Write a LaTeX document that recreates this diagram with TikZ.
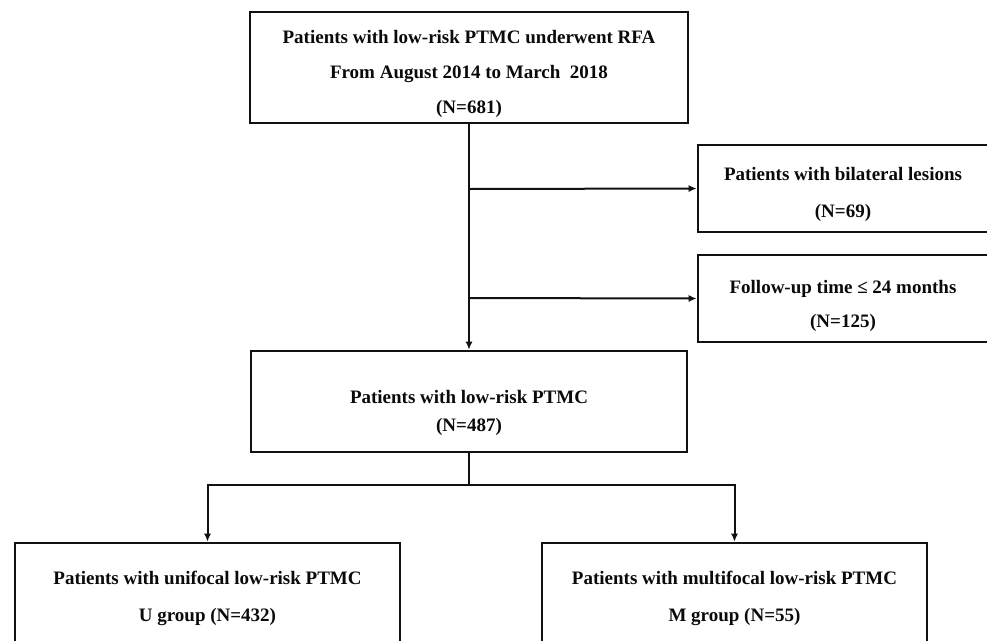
\documentclass[tikz,border=0pt]{standalone}
\usepackage{fontspec}
\setmainfont{Liberation Serif}
\usepackage{tikz}
\usetikzlibrary{arrows.meta,positioning}
\definecolor{line}{HTML}{111111}
\definecolor{ink}{HTML}{0A0A0A}
\tikzset{
  box/.style={draw=line, line width=2.6pt, inner sep=0pt},
  body/.style={align=center, inner sep=0pt, text=ink,
    font=\bfseries\fontsize{19}{35}\selectfont},
  link/.style={draw=line, line width=2pt},
  arrow/.style={link, -{Latex[length=8pt,width=7pt]}}
}

\begin{document}
\begin{tikzpicture}[x=1pt,y=-1pt]
  \useasboundingbox[fill=white] (0,0) rectangle (987,640);
  \node[box, minimum width=438pt, minimum height=111pt,
    label={[body, yshift=-6pt]center:{Patients with low-risk PTMC underwent RFA\\From August 2014 to March\ \ 2018\\(N=681)}}]
    (start) at (469,67.5) {};
  \node[box, minimum width=290pt, minimum height=87pt,
    label={[body, yshift=-6pt]center:{Patients with bilateral lesions\\[2pt](N=69)}}]
    (bilat) at (843,188.5) {};
  \node[box, minimum width=290pt, minimum height=87pt,
    label={[body, yshift=-7pt]center:{Follow-up time ≤ 24 months\\[-1pt](N=125)}}]
    (follow) at (843,298.5) {};
  \node[box, minimum width=436pt, minimum height=101pt,
    label={[body, yshift=-11pt]center:{Patients with low-risk PTMC\\[-7pt](N=487)}}]
    (cohort) at (469,401.5) {};
  \node[box, minimum width=385pt, minimum height=111pt,
    label={[body]center:{Patients with unifocal low-risk PTMC\\[2pt]U group (N=432)}}]
    (ugroup) at (207.5,598.5) {};
  \node[box, minimum width=385pt, minimum height=111pt,
    label={[body]center:{Patients with multifocal low-risk PTMC\\[2pt]M group (N=55)}}]
    (mgroup) at (734.5,598.5) {};
  \coordinate (b1) at (469,189);
  \coordinate (b2) at (469,298);
  \coordinate (split) at (469,485);
  \draw[arrow] (start.south) -- (cohort.north);
  \draw[arrow] (b1) -- (bilat.west);
  \draw[arrow] (b2) -- (follow.west);
  \draw[link] (cohort.south) -- (split);
  \draw[arrow] (split) -| (ugroup.north);
  \draw[arrow] (split) -| (mgroup.north);
\end{tikzpicture}
\end{document}
